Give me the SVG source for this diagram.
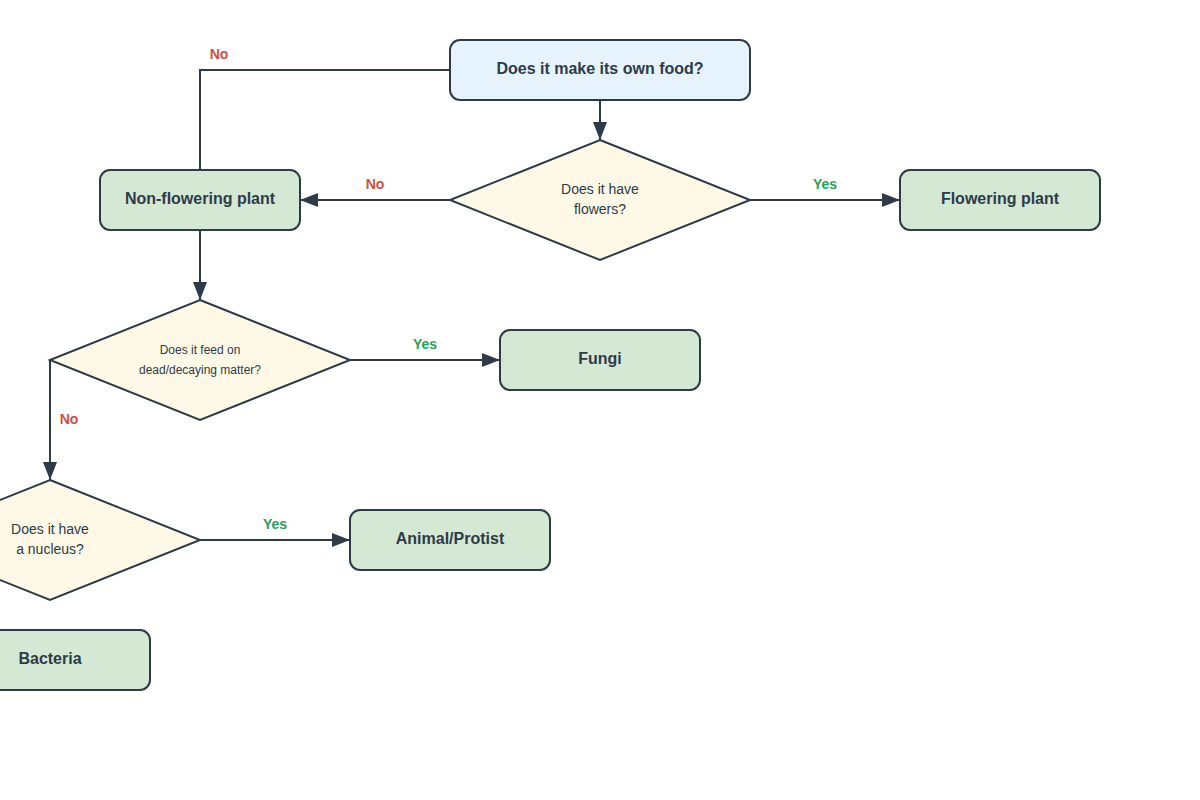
<svg xmlns="http://www.w3.org/2000/svg" width="1200" height="800" viewBox="0 0 1200 800">
<style>
.n{stroke:#2d3b48;stroke-width:2}
.q{fill:#e6f3fc}
.d{fill:#fef9e7}
.g{fill:#d5e8d4}
.t{font-family:"Liberation Sans",Arial,sans-serif;fill:#2d3b48;text-anchor:middle;dominant-baseline:middle}
.b{font-weight:bold;font-size:16px}
.e{stroke:#2d3b48;stroke-width:2;fill:none;marker-end:url(#a)}
.l{font-family:"Liberation Sans",Arial,sans-serif;font-weight:bold;font-size:14px;text-anchor:middle;dominant-baseline:middle}
.no{fill:#d34c3c}.yes{fill:#27a060}
</style>
<defs><marker id="a" markerWidth="20" markerHeight="14" refX="18" refY="7" orient="auto" markerUnits="userSpaceOnUse"><path d="M0,0 L18,7 L0,14 Z" fill="#2d3b48"/></marker></defs>
<rect width="1200" height="800" fill="#fff"/>
<g id="connectors">
<path class="e" d="M600,100 V140"/>
<path class="e" d="M450,70 H200 V300"/>
<path class="e" d="M450,200 H300"/>
<path class="e" d="M750,200 H900"/>
<path class="e" d="M350,360 H500"/>
<path class="e" d="M50,360 V480"/>
<path class="e" d="M200,540 H350"/>
<text class="l no" x="219" y="55">No</text>
<text class="l no" x="375" y="185">No</text>
<text class="l yes" x="825" y="185">Yes</text>
<text class="l yes" x="425" y="345">Yes</text>
<text class="l no" x="69" y="420">No</text>
<text class="l yes" x="275" y="525">Yes</text>
</g>
<g id="food"><rect class="n q" x="450" y="40" width="300" height="60" rx="10"/><text class="t b" x="600" y="70">Does it make its own food?</text></g>
<g id="flowers"><path class="n d" d="M600,140 L750,200 L600,260 L450,200 Z"/><text class="t" font-size="14" x="600" y="190">Does it have</text><text class="t" font-size="14" x="600" y="210">flowers?</text></g>
<g id="nonflowering"><rect class="n g" x="100" y="170" width="200" height="60" rx="10"/><text class="t b" x="200" y="200">Non-flowering plant</text></g>
<g id="flowering"><rect class="n g" x="900" y="170" width="200" height="60" rx="10"/><text class="t b" x="1000" y="200">Flowering plant</text></g>
<g id="decay"><path class="n d" d="M200,300 L350,360 L200,420 L50,360 Z"/><text class="t" font-size="12" x="200" y="351">Does it feed on</text><text class="t" font-size="12" x="200" y="371">dead/decaying matter?</text></g>
<g id="fungi"><rect class="n g" x="500" y="330" width="200" height="60" rx="10"/><text class="t b" x="600" y="360">Fungi</text></g>
<g id="nucleus"><path class="n d" d="M50,480 L200,540 L50,600 L-100,540 Z"/><text class="t" font-size="14" x="50" y="530">Does it have</text><text class="t" font-size="14" x="50" y="550">a nucleus?</text></g>
<g id="animal"><rect class="n g" x="350" y="510" width="200" height="60" rx="10"/><text class="t b" x="450" y="540">Animal/Protist</text></g>
<g id="bacteria"><rect class="n g" x="-50" y="630" width="200" height="60" rx="10"/><text class="t b" x="50" y="660">Bacteria</text></g>
</svg>
